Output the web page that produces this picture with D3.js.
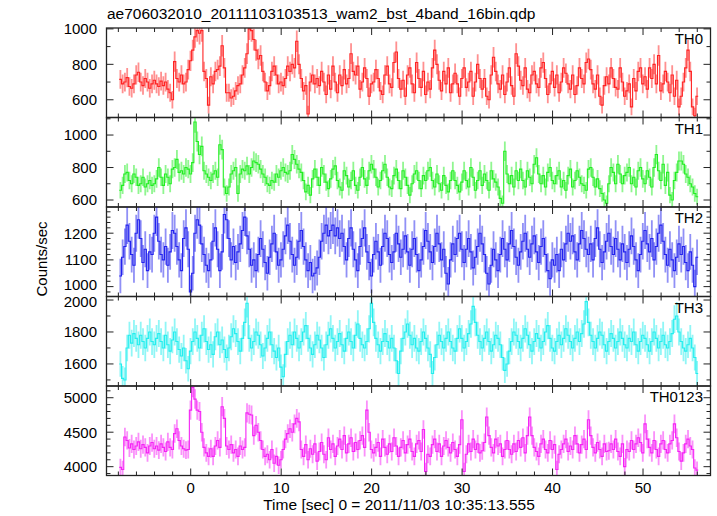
<!DOCTYPE html>
<html><head><meta charset="utf-8">
<script src="https://cdn.jsdelivr.net/npm/d3@7"></script>
<style>
body{margin:0;background:#fff}
text{font-family:"Liberation Sans",Arial,Helvetica,sans-serif;fill:#000}
</style>
</head><body>
<svg id="c" width="717" height="516"></svg>
<script>
// ---------------- data ----------------
const binStart = -7.9;      // start time of first bin [s]
const binWidth = 0.25;      // 16-bin (0.25 s) resolution
const title = "ae706032010_20111103103513_wam2_bst_4band_16bin.qdp";
const xLabel = "Time [sec] 0 = 2011/11/03 10:35:13.555";
const yLabel = "Counts/sec";
const panelNames = ["TH0","TH1","TH2","TH3","TH0123"];

const th0 = [
715,690,700,725,675,665,690,740, 755,700,680,720,700,665,690,710,
690,675,705,680,700,660,640,600, 815,720,700,740,690,700,770,820,
880,955,990,975,990,760,720,570, 730,690,760,770,790,905,780,640,
640,610,620,650,680,690,740,780, 860,1000,990,940,880,830,850,760,
700,650,680,760,790,740,690,700, 680,720,790,760,800,780,930,800,
720,650,680,520,700,740,690,720, 680,760,700,630,740,660,790,700,
640,740,680,770,690,720,860,760, 740,790,660,700,780,720,620,690,
700,770,720,650,630,740,790,690, 670,810,870,720,660,710,620,740,
780,690,640,810,720,670,760,630, 700,660,780,880,800,710,650,760,
690,780,640,690,750,690,620,720, 780,670,700,760,620,700,800,720,
660,720,620,600,740,840,760,690, 660,740,630,700,780,680,620,860,
790,710,680,780,660,640,740,760, 690,670,780,810,720,630,690,760,
670,740,640,700,780,750,690,660, 740,630,680,780,720,690,810,830,
770,690,660,740,620,570,680,730, 690,780,720,670,660,780,700,620,
650,690,560,720,650,760,780,690, 730,660,780,720,800,690,850,650,
690,760,700,640,740,620,710,560, 620,700,780,880,760,560,510,620];

const th1 = [
660,690,760,770,720,700,760,740, 690,700,740,680,700,720,690,700,
730,800,740,690,760,740,700,790, 800,850,770,780,760,800,790,760,
830,1080,960,880,930,780,760,740, 720,760,780,740,940,910,680,640,
680,760,780,800,640,760,790,780, 810,760,800,840,830,820,790,760,
740,700,690,720,710,760,740,780, 800,770,760,780,880,850,820,790,
770,720,650,690,630,730,790,740, 690,800,760,710,670,730,790,810,
720,680,660,780,750,680,720,780, 690,660,740,800,730,690,780,820,
790,740,680,720,780,820,740,680, 670,750,790,720,670,780,740,690,
630,700,760,780,720,670,750,720, 780,800,720,680,760,700,660,750,
690,650,720,780,720,690,650,710, 780,720,680,800,740,660,720,780,
690,760,720,660,780,730,710,680, 610,580,900,760,700,750,680,780,
720,790,720,680,780,740,700,820, 860,760,700,750,680,770,800,720,
700,750,780,680,720,660,750,790, 680,720,780,740,700,690,660,790,
800,740,680,730,670,640,600,580, 700,800,770,700,820,760,700,750,
770,800,700,740,680,780,800,730, 700,780,740,680,800,880,780,720,
820,690,770,630,600,720,770,840, 840,820,760,740,700,680,640,620];

const th2 = [
1040,1110,1150,1230,1170,1120,1080,1200, 1250,1180,1090,1140,1060,1130,1120,1200,
1260,1170,1120,1100,1150,1080,1130,1210, 1200,1150,1100,1060,1180,1220,1140,980,
1050,1200,1250,1230,1160,1120,1080,1060, 1100,1170,1220,1140,1060,1130,1270,1250,
1180,1100,1150,1090,1130,1160,1210,1260, 1190,1140,1080,1100,1060,1120,1180,1140,
1090,1050,1110,1160,1200,1130,1080,1100, 1140,1190,1230,1170,1120,1080,1110,1170,
1210,1150,1100,1060,1090,1040,1050,1070, 1110,1170,1200,1230,1190,1210,1230,1190,
1220,1180,1200,1150,1100,1180,1220,1140, 1100,1060,1150,1180,1220,1130,1090,1040,
1120,1170,1130,1080,1150,1200,1180,1120, 1090,1130,1200,1160,1110,1140,1190,1130,
1080,1140,1180,1120,1060,1100,1150,1210, 1170,1130,1090,1150,1200,1160,1100,1140,
1050,1010,1100,1160,1120,1180,1200,1140, 1090,1140,1180,1130,1070,1110,1150,1200,
1160,1120,1050,1010,1080,1140,1100,1060, 1120,1180,1140,1100,1160,1210,1150,1110,
1080,1130,1170,1200,1140,1110,1160,1190, 1130,1090,1150,1180,1120,1060,1030,1100,
1080,1120,1060,1140,1100,1160,1200,1170, 1190,1130,1100,1160,1210,1180,1140,1120,
1160,1100,1180,1220,1140,1090,1130,1170, 1200,1150,1120,1180,1140,1100,1160,1130,
1090,1140,1190,1150,1100,1060,1120,1170, 1210,1160,1130,1180,1100,1150,1200,1230,
1170,1120,1080,1140,1100,1060,1110,1160, 1120,1150,1090,1060,1130,1080,1000,1110];

const th3 = [
1600,1510,1500,1700,1780,1730,1790,1760, 1720,1780,1740,1700,1760,1800,1740,1720,
1760,1790,1740,1700,1780,1720,1680,1750, 1800,1740,1690,1650,1700,1620,1570,1680,
1740,1800,1760,1700,1780,1820,1740,1690, 1720,1660,1770,1800,1720,1750,1690,1640,
1700,1770,1820,1790,1740,1680,1760,1860, 1980,1760,1700,1740,1800,1780,1720,1650,
1700,1760,1800,1720,1680,1640,1700,1580, 1520,1660,1740,1780,1720,1800,1760,1700,
1740,1800,1840,1760,1700,1660,1720,1780, 1750,1700,1640,1720,1780,1820,1760,1700,
1740,1790,1720,1680,1760,1800,1740,1700, 1780,1850,1760,1720,1700,1740,1820,1980,
1860,1760,1720,1680,1740,1790,1740,1700, 1760,1700,1620,1540,1680,1760,1800,1850,
1780,1720,1760,1700,1680,1740,1800,1760, 1700,1660,1540,1640,1720,1780,1740,1700,
1760,1800,1740,1700,1680,1760,1820,1760, 1700,1740,1790,1850,1960,1860,1780,1740,
1700,1760,1800,1740,1680,1720,1780,1760, 1720,1640,1560,1600,1680,1740,1800,1780,
1740,1700,1760,1820,1780,1720,1680,1740, 1790,1760,1700,1740,1800,1840,1760,1700,
1680,1740,1780,1720,1760,1820,1780,1740, 1700,1760,1800,1740,1790,1850,1990,1860,
1780,1740,1700,1760,1800,1780,1720,1680, 1740,1790,1760,1700,1740,1800,1760,1720,
1700,1760,1740,1800,1720,1680,1740,1780, 1760,1720,1680,1740,1800,1760,1700,1740,
1780,1720,1700,1740,1790,1880,1900,1800, 1740,1700,1680,1720,1760,1700,1640,1540];

const th0123 = [
3990,3960,4430,4380,4270,4330,4250,4300, 4360,4260,4320,4280,4200,4300,4350,4260,
4300,4240,4330,4280,4220,4360,4280,4250, 4480,4550,4380,4300,4260,4240,4250,4820,
5150,4980,4820,4800,4500,4280,4200,4150, 4260,4150,4300,4380,4280,4870,4700,4300,
4250,4320,4200,4250,4150,4300,4250,4280, 4780,4760,4750,4450,4600,4500,4380,4250,
4150,4180,4100,4250,4050,4150,4020,4100, 4250,4400,4480,4550,4500,4620,4700,4650,
4250,4150,4320,4100,4260,4180,4330,4080, 4220,4350,4180,4100,4420,4250,4330,4150,
4300,4400,4250,4450,4200,4330,4420,4220, 4350,4250,4380,4450,4280,4820,4500,4250,
4200,4280,4350,4150,4400,4280,4180,4330, 4220,4420,4300,4150,4280,4380,4200,4320,
4400,4220,4150,4330,4380,4220,4540,3930, 4180,4150,4320,4400,4220,4330,4150,4300,
4380,4280,4200,4350,4250,4150,4320,4680, 3930,4180,4330,4220,4400,4250,4330,4200,
4230,4350,4720,4450,4280,4200,4400,4300, 4330,4150,4250,4380,4250,4180,4330,4220,
4380,4280,4420,4200,4450,4720,4450,4280, 4220,4150,4330,4400,4250,4200,4380,4250,
4320,3960,4180,4250,4330,4400,4220,4300, 4250,4450,4330,4200,4320,4400,4250,4680,
4450,4280,4200,4350,4250,4150,4330,4220, 4230,4330,4250,4400,4220,4150,4330,4000,
4250,4220,4380,4250,4330,4420,4350,4200, 4620,4400,4280,4200,4380,4250,4150,4330,
4380,4250,4200,4330,4380,4620,4420,4220, 4080,4200,4330,4400,4300,4250,3980,3950];

const series = [th0, th1, th2, th3, th0123];
const colors = ["#ff2222", "#22ee22", "#2222ee", "#22eeee", "#f522f5"];
const yDomains = [[500,1005],[557,1108],[963,1298],[1462,2022],[3872,5170]];
const yMajorTicks = [[600,800,1000],[600,800,1000],[1000,1100,1200],[1600,1800,2000],[4000,4500,5000]];
const yMinorTicks = [
  [500,600,700,800,900,1000],
  [600,700,800,900,1000,1100],
  d3.range(980,1300,20),
  [1500,1600,1700,1800,1900,2000],
  d3.range(3900,5200,100)];
const xDomain = [-9.31, 57.46];
const xMajorTicks = [0,10,20,30,40,50];
const xMinorTicks = d3.range(-8,57,2);

// ---------------- layout ----------------
const svg = d3.select("#c");
const L = 106.5, R = 710.5, T = 28, PH = 89.5;
const x = d3.scaleLinear().domain(xDomain).range([L, R]);
const majLen = 7, minLen = 4;
const labelFont = 15, minGap = 17.5;

svg.append("text").attr("x", 107).attr("y", 19).attr("font-size", 15.5).text(title);

// compute y-label positions, spreading labels of adjacent panels that would collide
const yScales = series.map((v,p) => d3.scaleLinear().domain(yDomains[p]).range([T+PH*(p+1), T+PH*p]));
const labelPos = yMajorTicks.map((ticks,p) => ticks.map(t => yScales[p](t)));
for (let p = 1; p < series.length; p++) {
  const prevLow = d3.max(labelPos[p-1]);
  const curHigh = d3.min(labelPos[p]);
  const gap = curHigh - prevLow;
  if (gap < minGap) {
    const shift = (minGap - gap) / 2;
    const iPrev = labelPos[p-1].indexOf(prevLow), iCur = labelPos[p].indexOf(curHigh);
    labelPos[p-1][iPrev] -= shift;
    labelPos[p][iCur] += shift;
  }
}

series.forEach((vals, p) => {
  const top = T + PH*p, bot = top + PH;
  const y = yScales[p];
  const g = svg.append("g");
  const cid = "clip"+p;
  svg.append("clipPath").attr("id", cid).append("rect")
    .attr("x", L).attr("y", top).attr("width", R-L).attr("height", PH);
  const dg = g.append("g").attr("clip-path", `url(#${cid})`);
  const col = colors[p];
  // error bars (Poisson, 0.25 s bins)
  dg.selectAll("line.err").data(vals).join("line")
    .attr("x1", (d,i)=>x(binStart + binWidth*(i+0.5)))
    .attr("x2", (d,i)=>x(binStart + binWidth*(i+0.5)))
    .attr("y1", d=>y(d - Math.sqrt(d/binWidth)))
    .attr("y2", d=>y(d + Math.sqrt(d/binWidth)))
    .attr("stroke", col).attr("stroke-opacity", 0.5).attr("stroke-width", 1.8);
  // step line
  const pts = vals.map((d,i)=>[binStart + binWidth*i, d]);
  pts.push([binStart + binWidth*vals.length, vals[vals.length-1]]);
  const line = d3.line().x(d=>x(d[0])).y(d=>y(d[1])).curve(d3.curveStepAfter);
  dg.append("path").attr("d", line(pts)).attr("fill","none")
    .attr("stroke", col).attr("stroke-width", 1.1);

  // ticks
  const tg = g.append("g").attr("stroke", "#222").attr("stroke-width", 1);
  xMinorTicks.forEach(t => {
    const len = xMajorTicks.includes(t) ? majLen : minLen;
    tg.append("line").attr("x1", x(t)).attr("x2", x(t)).attr("y1", top).attr("y2", top+len);
    tg.append("line").attr("x1", x(t)).attr("x2", x(t)).attr("y1", bot).attr("y2", bot-len);
  });
  yMinorTicks[p].forEach(v => {
    if (v < yDomains[p][0] || v > yDomains[p][1]) return;
    const len = yMajorTicks[p].includes(v) ? majLen : minLen;
    tg.append("line").attr("x1", L).attr("x2", L+len).attr("y1", y(v)).attr("y2", y(v));
    tg.append("line").attr("x1", R).attr("x2", R-len).attr("y1", y(v)).attr("y2", y(v));
  });
  // y tick labels
  g.selectAll("text.yl").data(yMajorTicks[p]).join("text")
    .attr("x", 97).attr("y", (d,i)=>labelPos[p][i]).attr("dy", "0.36em")
    .attr("text-anchor", "end").attr("font-size", labelFont).text(d=>d);
  // panel label
  g.append("text").attr("x", 703).attr("y", top+16).attr("text-anchor","end")
    .attr("font-size", 15).text(panelNames[p]);
  // frame
  g.append("rect").attr("x", L).attr("y", top).attr("width", R-L).attr("height", PH)
    .attr("fill","none").attr("stroke","#222").attr("stroke-width",1.3);
});

// x tick labels
svg.selectAll("text.xl").data(xMajorTicks).join("text")
  .attr("x", d=>x(d)).attr("y", 493).attr("text-anchor","middle")
  .attr("font-size", 15).text(d=>d);
svg.append("text").attr("x", 399).attr("y", 510).attr("text-anchor","middle")
  .attr("font-size", 15.5).text(xLabel);
svg.append("text").attr("transform", "translate(47,259) rotate(-90)")
  .attr("text-anchor","middle").attr("font-size", 15).text(yLabel);
</script>
</body></html>
